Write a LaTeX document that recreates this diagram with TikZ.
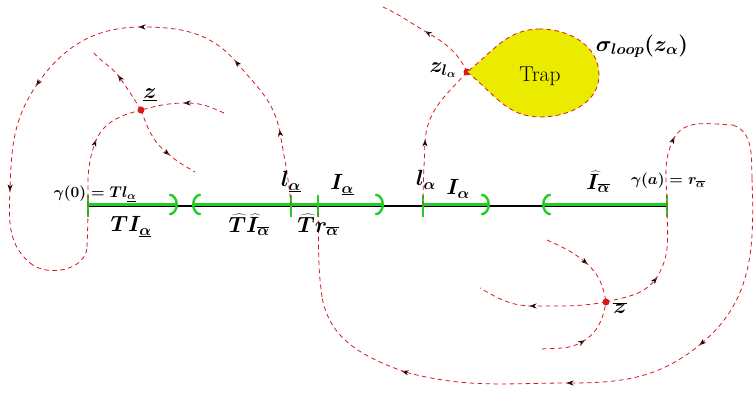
\RequirePackage{fix-cm}
\documentclass[tikz,border=0pt]{standalone}
\usetikzlibrary{arrows.meta,decorations.markings}
\definecolor{rd}{RGB}{215,25,30}
\definecolor{grn}{RGB}{35,205,35}
\definecolor{yel}{RGB}{235,235,0}
\tikzset{
  flow/.style={draw=rd, line width=0.8pt, dash pattern=on 4.5pt off 3.5pt},
  tipend/.style={postaction={decorate}, decoration={markings, mark=at position 1 with {\arrow[black,xshift=3.5pt]{Stealth[length=7pt,width=5pt]}}}},
  axisline/.style={draw=black, line width=1.8pt},
  gbr/.style={draw=grn, line width=3.6pt, arrows={-{Arc Barb[width=22pt,line width=2.4pt]}}},
  gbl/.style={draw=grn, line width=3.6pt, arrows={{Arc Barb[width=22pt,line width=2.4pt]}-}},
  gtick/.style={draw=grn, line width=2.6pt},
  dot/.style={circle, fill=rd, inner sep=0pt, minimum size=7pt},
  lab/.style={inner sep=1pt, font=\fontsize{22}{26}\selectfont\boldmath},
  slab/.style={inner sep=1pt, font=\fontsize{15.5}{18}\selectfont\boldmath},
}
\begin{document}
\begin{tikzpicture}[x=1pt,y=1pt]
\useasboundingbox (0,0) rectangle (756,393);

% ---------- axis points ----------
\coordinate (G0) at (88,187);
\coordinate (Lb) at (291,187);
\coordinate (TR) at (318,187);
\coordinate (L2) at (423,187);
\coordinate (GA) at (667,187);
% green interval ends
\coordinate (g0) at (88,188.5);
\coordinate (g1) at (178,188.5);
\coordinate (g2) at (192,188.5);
\coordinate (g3) at (291,188.5);
\coordinate (g4) at (384,188.5);
\coordinate (g5) at (423,188.5);
\coordinate (g6) at (490,188.5);
\coordinate (g7) at (542,188.5);
\coordinate (g8) at (667,188.5);

\draw[axisline] (G0) -- (GA);
\draw[gbr] (g0) -- (g1);
\draw[gbl] (g2) -- (g3);
\draw[gbr] (g3) -- (g4);
\draw[gbr] (g5) -- (g6);
\draw[gbl] (g7) -- (g8);
\foreach \p in {G0,Lb,TR,L2,GA}{
  \draw[gtick] ([yshift=-11pt]\p) -- ([yshift=11pt]\p);
}

% ---------- trap ----------
\node[dot] (zl) at (467,321) {};
\coordinate (tb) at (540,276);
\coordinate (tr) at (599,318);
\coordinate (tt) at (540,364);
\fill[yel] (zl.center) to[out=-38,in=180] (tb) to[out=0,in=270] (tr) to[out=90,in=0] (tt) to[out=180,in=38] (zl.center);
\draw[flow,tipend] (zl.center) to[out=-38,in=180] (tb);
\draw[flow,tipend] (tb) to[out=0,in=270] (tr);
\draw[flow,tipend] (tr) to[out=90,in=0] (tt);
\draw[flow] (tt) to[out=180,in=38] (zl.center);

% ---------- points ----------
\node[dot] (z) at (141,283) {};
\node[dot] (zb) at (606,91) {};

% ---------- big left loop ----------
\coordinate (a1) at (280,260);
\coordinate (a2) at (237,330);
\coordinate (a3) at (142,366);
\coordinate (a4) at (38,310);
\coordinate (a5) at (10,205);
\coordinate (a6) at (30,130);
\coordinate (a7) at (87,146);
\coordinate (a8) at (95,250);
\draw[flow,tipend] (Lb) to[out=95,in=280] (a1);
\draw[flow,tipend] (a1) to[out=100,in=310] (a2);
\draw[flow,tipend] (a2) to[out=130,in=0] (a3);
\draw[flow,tipend] (a3) to[out=180,in=55] (a4);
\draw[flow,tipend] (a4) to[out=235,in=88] (a5);
\draw[flow,tipend] (a5) to[out=268,in=140] (a6);
\draw[flow,tipend] (a6) to[out=320,in=268] (a7);
\draw[flow] (a7) to[out=88,in=270] (G0);
\draw[flow,tipend] (G0) to[out=90,in=250] (a8);
\draw[flow] (a8) to[out=70,in=195] (z.center);

% ---------- curves at z ----------
\coordinate (ua) at (120,315);
\coordinate (u1) at (93,341);
\coordinate (lb) at (167,240);
\coordinate (l1) at (195,221);
\coordinate (r1) at (224,280);
\coordinate (ra) at (187,290);
\draw[flow,tipend] (z.center) to[out=122,in=305] (ua);
\draw[flow] (ua) to[out=125,in=310] (u1);
\draw[flow,tipend] (z.center) to[out=290,in=140] (lb);
\draw[flow] (lb) to[out=320,in=150] (l1);
\draw[flow,tipend] (r1) to[out=156,in=0] (ra);
\draw[flow] (ra) to[out=180,in=15] (z.center);

% ---------- curves at z_l ----------
\coordinate (b1) at (425,250);
\coordinate (b2) at (428,360);
\coordinate (b3) at (383,386);
\draw[flow,tipend] (L2) to[out=90,in=268] (b1);
\draw[flow] (b1) to[out=88,in=228] (zl.center);
\draw[flow,tipend] (zl.center) to[out=115,in=330] (b2);
\draw[flow] (b2) to[out=150,in=335] (b3);

% ---------- big right loop ----------
\coordinate (c1) at (655,113);
\coordinate (c2) at (673,253);
\coordinate (c3) at (733,268);
\coordinate (c4) at (752,215);
\coordinate (c5) at (702,50);
\coordinate (c6) at (570,10);
\coordinate (c7) at (405,21);
\coordinate (c8) at (322,96);
\draw[flow,tipend] (zb.center) to[out=15,in=230] (c1);
\draw[flow] (c1) to[out=55,in=270] (GA);
\draw[flow,tipend] (GA) to[out=90,in=245] (c2);
\draw[flow,tipend] (c2) to[out=65,in=178] (c3);
\draw[flow] (c3) to[out=340,in=92] (c4);
\draw[flow,tipend] (c4) to[out=272,in=40] (c5);
\draw[flow,tipend] (c5) to[out=220,in=0] (c6);
\draw[flow,tipend] (c6) to[out=180,in=345] (c7);
\draw[flow,tipend] (c7) to[out=160,in=280] (c8);
\draw[flow] (c8) to[out=98,in=272] (TR);

% ---------- curves at zbar ----------
\coordinate (d1) at (547,153);
\coordinate (d2) at (585,131);
\coordinate (e1) at (533,87);
\coordinate (e2) at (480,105);
\coordinate (f1) at (542,44);
\coordinate (f2) at (582,51);
\draw[flow,tipend] (d1) to[out=335,in=140] (d2);
\draw[flow] (d2) to[out=320,in=100] (zb.center);
\draw[flow,tipend] (zb.center) to[out=190,in=0] (e1);
\draw[flow] (e1) to[out=180,in=330] (e2);
\draw[flow,tipend] (f1) to[out=5,in=210] (f2);
\draw[flow] (f2) to[out=30,in=260] (zb.center);

% ---------- labels ----------
\node[slab] (lg0) at (95,199) {$\gamma(0)=Tl_{\underline{\alpha}}$};
\node[lab] (lTI) at (131,166) {$TI_{\underline{\alpha}}$};
\node[lab] (lTIb) at (249,168) {$\widehat{T}\widehat{I}_{\overline{\alpha}}$};
\node[lab] (ll1) at (291,211) {$l_{\underline{\alpha}}$};
\node[lab] (lI1) at (342,208) {$I_{\underline{\alpha}}$};
\node[lab] (lTr) at (318,168) {$\widehat{T}r_{\overline{\alpha}}$};
\node[lab] (ll2) at (426,213) {$l_{\alpha}$};
\node[lab] (lI2) at (458,204) {$I_{\alpha}$};
\node[lab] (lIb) at (598,211) {$\widehat{I}_{\overline{\alpha}}$};
\node[slab] (lga) at (668,212) {$\gamma(a)=r_{\overline{\alpha}}$};
\node[lab] (lzl) at (443,323) {$z_{l_\alpha}$};
\node[lab, font=\fontsize{21.5}{25}\selectfont] (ltrap) at (540,317) {Trap};
\node[lab] (lsig) at (642,347) {$\sigma_{loop}(z_\alpha)$};
\node[lab] (lz) at (150,298) {$\underline{z}$};
\node[lab] (lzb) at (620,85) {$\overline{z}$};
\end{tikzpicture}
\end{document}
